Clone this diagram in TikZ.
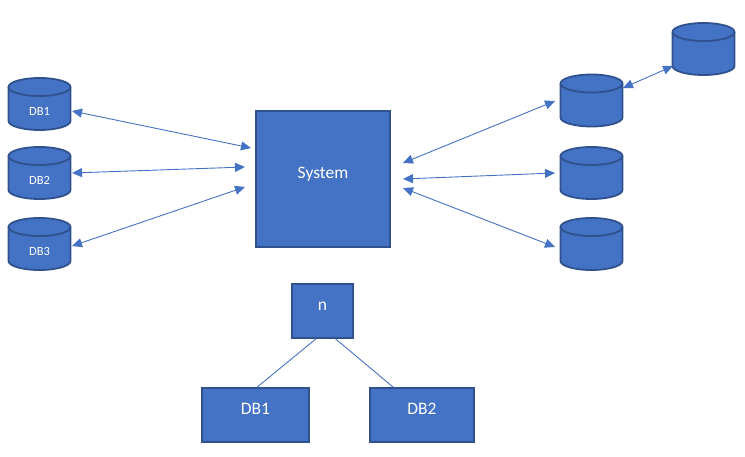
\documentclass[tikz,border=0pt]{standalone}
\usepackage{fontspec}
\setmainfont{Carlito}
\usetikzlibrary{arrows.meta}
\definecolor{fillblue}{HTML}{4472C4}
\definecolor{edgeblue}{HTML}{2F528F}
\newcommand{\lbl}[2]{\smash{\raisebox{#1pt}{#2}}}
\newcommand{\cylshape}[4]{%
  % #1 name, #2 x, #3 y of centre, #4 text
  \path[cylbody] (#2-31,#3-17) arc[start angle=180,end angle=360,x radius=31,y radius=9]
     -- (#2+31,#3+17) arc[start angle=0,end angle=180,x radius=31,y radius=9] -- cycle;
  \draw[cylrim] (#2-31,#3-17) arc[start angle=180,end angle=0,x radius=31,y radius=9];
  \node[cyllabel] (#1) at (#2,#3) {\lbl{-12}{#4}};
}
\tikzset{
  box/.style={draw=edgeblue,fill=fillblue,line width=1.5pt,text=white,inner sep=0pt,anchor=center,font=\fontsize{17.5}{20}\selectfont},
  cylbody/.style={draw=edgeblue,fill=fillblue,line width=1.8pt},
  cylrim/.style={draw=edgeblue,line width=1.8pt},
  cyllabel/.style={minimum width=62pt,minimum height=52pt,inner sep=0pt,text=white,font=\fontsize{12.5}{14}\selectfont},
  link/.style={draw=fillblue,line width=0.9pt,{Triangle[length=10pt,width=9pt]}-{Triangle[length=10pt,width=9pt]}},
  plain/.style={draw=fillblue,line width=0.9pt}
}
\begin{document}
\begin{tikzpicture}[x=1pt,y=-1pt]
\useasboundingbox (0,0) rectangle (745,457);
\cylshape{c1}{39.5}{104}{DB1}
\cylshape{c2}{39.5}{173}{DB2}
\cylshape{c3}{39.5}{244}{DB3}
\cylshape{r0}{703.5}{49}{}
\cylshape{r1}{591.5}{100.5}{}
\cylshape{r2}{591.5}{173}{}
\cylshape{r3}{591.5}{244}{}
\node[box,minimum width=134pt,minimum height=136pt] (sys) at (323,179) {\lbl{0}{System}};
\node[box,minimum width=61pt,minimum height=54pt] (n) at (322.5,311) {\lbl{0}{n}};
\node[box,minimum width=107pt,minimum height=54pt] (b1) at (255.5,415) {\lbl{1}{DB1}};
\node[box,minimum width=104pt,minimum height=54pt] (b2) at (422,415) {\lbl{1}{DB2}};
\coordinate (s1) at (251,148);
\coordinate (s2) at (245,167);
\coordinate (s3) at (245,187);
\coordinate (s4) at (403,163);
\coordinate (s5) at (403,179);
\coordinate (s6) at (403,188);
\coordinate (e1) at (555,101);
\coordinate (e2) at (555,173);
\coordinate (e3) at (555,247);
\coordinate (l1) at (72,111);
\coordinate (l2) at (72,173);
\coordinate (l3) at (72,246);
\coordinate (a0) at (673,66);
\coordinate (a1) at (623,88);
\draw[link] (l1) -- (s1);
\draw[link] (l2) -- (s2);
\draw[link] (l3) -- (s3);
\draw[link] (s4) -- (e1);
\draw[link] (s5) -- (e2);
\draw[link] (s6) -- (e3);
\draw[link] (a1) -- (a0);
\draw[plain] (n.-103.5) -- (b1.87);
\draw[plain] (n.-65) -- (b2.136);
\end{tikzpicture}
\end{document}
